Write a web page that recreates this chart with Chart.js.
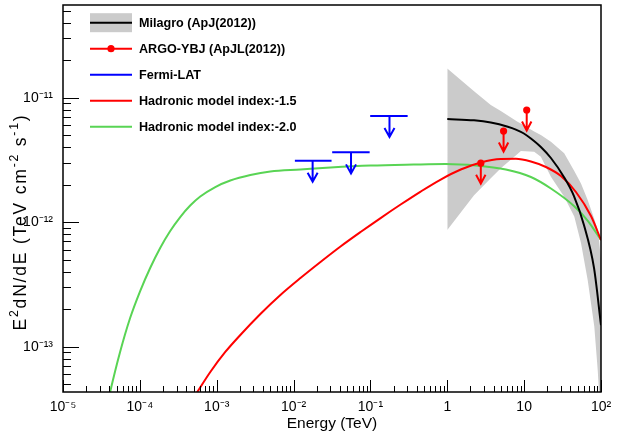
<!DOCTYPE html>
<html>
<head>
<meta charset="utf-8">
<script src="https://cdn.jsdelivr.net/npm/chart.js@4.4.1/dist/chart.umd.min.js"></script>
<style>
  html, body { margin: 0; padding: 0; background: #fff; }
  #wrap { width: 622px; height: 434px; }
</style>
</head>
<body>
<div id="wrap"><canvas id="sed" width="622" height="434"></canvas></div>
<script>
// energies in TeV, flux E^2 dN/dE in TeV cm^-2 s^-1
const seriesNames = ['Milagro (ApJ(2012))', 'ARGO-YBJ (ApJL(2012))', 'Fermi-LAT',
  'Hadronic model index:-1.5', 'Hadronic model index:-2.0'];

const milagroE = [1, 2.23, 3.68, 6.13, 7.80, 9.92, 12.24, 16.5, 22.3, 32.9, 44.5, 60.0, 81.1, 100];
const milagroF = [6.74e-12, 6.58e-12, 6.32e-12, 5.85e-12, 5.55e-12, 5.16e-12, 4.70e-12, 4.02e-12, 3.28e-12, 2.31e-12, 1.62e-12, 9.49e-13, 4.29e-13, 1.49e-13];

const bandE    = [1, 2.23, 3.68, 4.97, 8.2, 9.06, 13.5, 16.5, 22.3, 33.2, 44.9, 54.9, 67.1, 81.8, 90.6, 94.2, 100];
const bandUp   = [1.72e-11, 1.13e-11, 8.74e-12, 7.82e-12, 6.41e-12, 6.20e-12, 5.36e-12, 5.02e-12, 4.44e-12, 3.58e-12, 2.58e-12, 2.05e-12, 1.51e-12, 1.06e-12, 8.65e-13, 7.19e-13, 4.97e-13];
const bandLow  = [8.65e-13, 1.65e-12, 2.25e-12, 2.71e-12, 3.53e-12, 3.73e-12, 3.68e-12, 3.36e-12, 2.32e-12, 1.60e-12, 1.11e-12, 6.81e-13, 3.44e-13, 1.45e-13, 6.5e-14, 4.32e-14, 2.14e-14];

const argoE = [2.73, 5.4, 10.8];
const argoF = [2.98e-12, 5.4e-12, 7.97e-12];

const fermiE    = [0.0177, 0.0559, 0.177];
const fermiElow = [0.0104, 0.0318, 0.0993];
const fermiEhigh = [0.0312, 0.0977, 0.305];
const fermiF    = [3.12e-12, 3.64e-12, 7.13e-12];

const had15E = [3.89e-4, 5.58e-4, 8.25e-4, 1.293e-3, 2.029e-3, 3.70e-3, 6.74e-3, 0.01229, 0.02239, 0.04081, 0.0744, 0.1356,
  0.2471, 0.4505, 0.821, 1.496, 2.728, 4.97, 7.80, 12.24, 19.19, 30.1, 47.2, 74.1, 100];
const had15F = [3.10e-14, 4.32e-14, 6.26e-14, 9.07e-14, 1.242e-13, 1.831e-13, 2.602e-13, 3.56e-13, 4.79e-13, 6.38e-13, 8.34e-13, 1.080e-12,
  1.387e-12, 1.764e-12, 2.203e-12, 2.650e-12, 3.017e-12, 3.218e-12, 3.23e-12, 3.073e-12, 2.776e-12, 2.350e-12, 1.748e-12, 1.121e-12, 7.19e-13];

const had20E = [3.32e-5, 4.10e-5, 5.53e-5, 7.47e-5, 1.009e-4, 1.362e-4, 1.838e-4, 2.482e-4, 3.35e-4, 4.52e-4, 6.11e-4, 9.58e-4, 1.503e-3,
  2.738e-3, 4.99e-3, 0.01229, 0.03023, 0.1004, 0.365, 0.954, 2.348, 5.776, 12.24, 22.3, 44.5, 67.7, 100];
const had20F = [2.39e-14, 4.32e-14, 9.07e-14, 1.70e-13, 2.80e-13, 4.29e-13, 6.21e-13, 8.50e-13, 1.101e-12, 1.362e-12, 1.608e-12, 1.917e-12, 2.162e-12,
  2.393e-12, 2.554e-12, 2.650e-12, 2.750e-12, 2.853e-12, 2.907e-12, 2.934e-12, 2.853e-12, 2.650e-12, 2.307e-12, 1.865e-12, 1.349e-12, 1.022e-12, 7.2e-13];

const xTickLabels = ['10⁻⁵', '10⁻⁴', '10⁻³', '10⁻²', '10⁻¹', '1', '10', '10²'];  // 1e-5 .. 1e2
const yTickLabels = ['10⁻¹³', '10⁻¹²', '10⁻¹¹'];                                  // 1e-13 .. 1e-11

const GREEN = '#59d454', RED = '#ff0000', BLUE = '#0000ff', GRAY = '#cbcbcb';
const FONT = '"Liberation Sans", Arial, sans-serif';

const pts = (xs, ys) => xs.map((x, i) => ({ x: x, y: ys[i] }));

function decadeExp(v) {
  const l = Math.log10(v), e = Math.round(l);
  return Math.abs(l - e) < 1e-6 ? e : null;
}

// 1..9 x 10^e ticks inside [min, max]
function logTicks(scale, e0, e1) {
  const out = [];
  for (let e = e0; e <= e1; e++) {
    for (let k = 1; k <= 9; k++) {
      const v = k * Math.pow(10, e);
      if (v >= scale.min * 0.9999 && v <= scale.max * 1.0001) out.push({ value: v });
    }
  }
  scale.ticks = out;
}

function noPad(s) {
  s.paddingTop = 0; s.paddingBottom = 0; s.paddingLeft = 0; s.paddingRight = 0;
}

function arrowDown(ctx, x, y, len, hw, hh) {
  ctx.beginPath();
  ctx.moveTo(x, y);
  ctx.lineTo(x, y + len);
  ctx.moveTo(x - hw, y + len - hh);
  ctx.lineTo(x, y + len);
  ctx.lineTo(x + hw, y + len - hh);
  ctx.stroke();
}

// text with raised exponents, parts = [[text, isSup], ...], centred on (0,0)
function drawRich(ctx, parts, size, spacing) {
  const supSize = size * 0.7;
  ctx.letterSpacing = (spacing || 0) + 'px';
  let w = 0;
  parts.forEach(p => {
    ctx.font = (p[1] ? supSize : size) + 'px ' + FONT;
    w += ctx.measureText(p[0]).width;
  });
  let x = -w / 2;
  ctx.textBaseline = 'alphabetic';
  ctx.textAlign = 'left';
  parts.forEach(p => {
    ctx.font = (p[1] ? supSize : size) + 'px ' + FONT;
    ctx.fillText(p[0], x, p[1] ? size * 0.35 - size * 0.45 : size * 0.35);
    x += ctx.measureText(p[0]).width;
  });
  ctx.letterSpacing = '0px';
}

const rootStyle = {
  id: 'rootStyle',
  afterDatasetsDraw(chart) {
    const ctx = chart.ctx, a = chart.chartArea;
    const xs = chart.scales.x, ys = chart.scales.y;
    ctx.save();
    ctx.lineCap = 'butt';

    // ARGO-YBJ upper limits
    ctx.strokeStyle = RED;
    ctx.lineWidth = 2;
    chart.getDatasetMeta(3).data.forEach(p => arrowDown(ctx, p.x, p.y, 20.5, 4.7, 9));

    // Fermi-LAT upper limits with energy bins
    ctx.strokeStyle = BLUE;
    chart.getDatasetMeta(4).data.forEach((p, i) => {
      ctx.beginPath();
      ctx.moveTo(xs.getPixelForValue(fermiElow[i]), p.y);
      ctx.lineTo(xs.getPixelForValue(fermiEhigh[i]), p.y);
      ctx.stroke();
      arrowDown(ctx, p.x, p.y, 21, 5, 9);
    });

    // legend
    const lx0 = 90, lx1 = 132, tx = 139, ly0 = 22.7, step = 26;
    ctx.fillStyle = GRAY;
    ctx.fillRect(lx0, ly0 - 9.5, lx1 - lx0, 19);
    const legendColors = ['#000', RED, BLUE, RED, GREEN];
    legendColors.forEach((c, i) => {
      const y = ly0 + i * step;
      ctx.strokeStyle = c;
      ctx.lineWidth = 2;
      ctx.beginPath();
      ctx.moveTo(lx0, y);
      ctx.lineTo(lx1, y);
      ctx.stroke();
      if (i === 1) {
        ctx.fillStyle = RED;
        ctx.beginPath();
        ctx.arc((lx0 + lx1) / 2, y, 3.6, 0, Math.PI * 2);
        ctx.fill();
      }
      ctx.fillStyle = '#000';
      ctx.font = 'bold 12.6px ' + FONT;
      ctx.textAlign = 'left';
      ctx.textBaseline = 'middle';
      ctx.fillText(seriesNames[i], tx, y + 0.5);
    });

    // frame
    ctx.strokeStyle = '#000';
    ctx.lineWidth = 1.5;
    ctx.strokeRect(a.left, a.top, a.right - a.left, a.bottom - a.top);

    // inward ticks
    ctx.lineWidth = 1;
    xs.ticks.forEach(t => {
      const px = Math.round(xs.getPixelForValue(t.value)) + 0.5;
      const len = decadeExp(t.value) !== null ? 12 : 6;
      ctx.beginPath();
      ctx.moveTo(px, a.bottom);
      ctx.lineTo(px, a.bottom - len);
      ctx.stroke();
    });
    ys.ticks.forEach(t => {
      const py = Math.round(ys.getPixelForValue(t.value)) + 0.5;
      const len = decadeExp(t.value) !== null ? 16 : 8;
      ctx.beginPath();
      ctx.moveTo(a.left, py);
      ctx.lineTo(a.left + len, py);
      ctx.stroke();
    });

    // axis titles
    ctx.fillStyle = '#000';
    ctx.save();
    ctx.translate((a.left + a.right) / 2, 423);
    drawRich(ctx, [['Energy (TeV)', false]], 15.5, 0);
    ctx.restore();
    ctx.save();
    ctx.translate(20, 222);
    ctx.rotate(-Math.PI / 2);
    drawRich(ctx, [['E', false], ['2', true], ['dN/dE (TeV cm', false], ['-2', true], [' s', false], ['-1', true], [')', false]], 17.5, 1.8);
    ctx.restore();

    ctx.restore();
  }
};

const curve = (label, data, color, order) => ({
  label: label, data: data, borderColor: color, borderWidth: 2, pointRadius: 0,
  cubicInterpolationMode: 'monotone', fill: false, order: order
});

new Chart(document.getElementById('sed'), {
  type: 'line',
  data: {
    datasets: [
      { label: 'band low', data: pts(bandE, bandLow), borderWidth: 0, borderColor: 'rgba(0,0,0,0)',
        pointRadius: 0, tension: 0, fill: false, order: 9 },
      { label: 'band high', data: pts(bandE, bandUp), borderWidth: 0, borderColor: 'rgba(0,0,0,0)',
        backgroundColor: GRAY, pointRadius: 0, tension: 0, fill: '-1', order: 8 },
      curve(seriesNames[0], pts(milagroE, milagroF), '#000', 3),
      { label: seriesNames[1], data: pts(argoE, argoF), showLine: false, pointRadius: 3.6,
        pointBorderWidth: 0, pointBackgroundColor: RED, borderColor: RED, order: 1 },
      { label: seriesNames[2], data: pts(fermiE, fermiF), showLine: false, pointRadius: 0,
        borderColor: BLUE, order: 1 },
      curve(seriesNames[3], pts(had15E, had15F), RED, 4),
      curve(seriesNames[4], pts(had20E, had20F), GREEN, 5)
    ]
  },
  options: {
    responsive: false,
    animation: false,
    layout: { padding: { left: 0, right: 21, top: 5, bottom: 0 } },
    plugins: { legend: { display: false }, tooltip: { enabled: false } },
    scales: {
      x: {
        type: 'logarithmic', min: 1e-5, max: 1e2,
        grid: { display: false, drawTicks: false }, border: { display: false },
        afterBuildTicks: s => logTicks(s, -5, 2),
        afterFit: s => { s.height = 42; noPad(s); },
        ticks: {
          autoSkip: false, maxRotation: 0, padding: 7, color: '#000',
          font: { family: FONT, size: 14 },
          callback: v => { const e = decadeExp(v); return e === null ? '' : xTickLabels[e + 5]; }
        }
      },
      y: {
        type: 'logarithmic', min: Math.pow(10, -13.364), max: Math.pow(10, -10.255),
        grid: { display: false, drawTicks: false }, border: { display: false },
        afterBuildTicks: s => logTicks(s, -14, -11),
        afterFit: s => { s.width = 63; noPad(s); },
        ticks: {
          autoSkip: false, padding: 10, color: '#000',
          font: { family: FONT, size: 14 },
          callback: v => { const e = decadeExp(v); return e === null ? '' : (yTickLabels[e + 13] || ''); }
        }
      }
    }
  },
  plugins: [rootStyle]
});
</script>
</body>
</html>
